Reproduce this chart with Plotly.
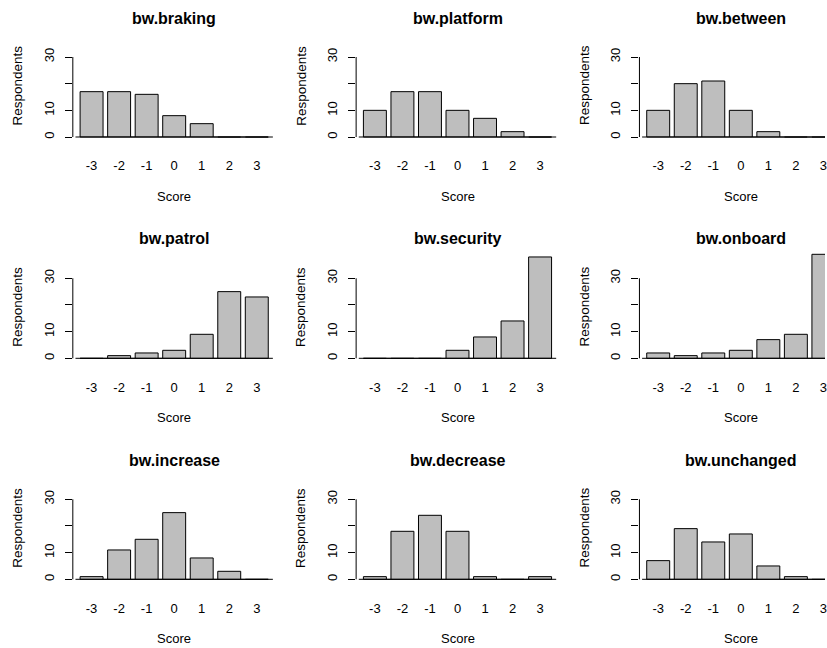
import plotly.graph_objects as go

# ---------------- data ----------------
scores = ["-3", "-2", "-1", "0", "1", "2", "3"]

bw_braking = [17, 17, 16, 8, 5, 0, 0]
bw_platform = [10, 17, 17, 10, 7, 2, 0]
bw_between = [10, 20, 21, 10, 2, 0, 0]
bw_patrol = [0, 1, 2, 3, 9, 25, 23]
bw_security = [0, 0, 0, 3, 8, 14, 38]
bw_onboard = [2, 1, 2, 3, 7, 9, 39]
bw_increase = [1, 11, 15, 25, 8, 3, 0]
bw_decrease = [1, 18, 24, 18, 1, 0, 1]
bw_unchanged = [7, 19, 14, 17, 5, 1, 0]

panel_titles = ["bw.braking", "bw.platform", "bw.between",
                "bw.patrol", "bw.security", "bw.onboard",
                "bw.increase", "bw.decrease", "bw.unchanged"]
panel_values = [bw_braking, bw_platform, bw_between,
                bw_patrol, bw_security, bw_onboard,
                bw_increase, bw_decrease, bw_unchanged]

y_tickvals = [0, 10, 20, 30]
y_ticktext = ["0", "10", "", "30"]
x_label = "Score"
y_label = "Respondents"

# ---------------- layout geometry (pixels) ----------------
W, H = 827, 648
COL_LEFT = [73, 357, 641]
PANEL_W = 204
COL_CENTER = [174.7, 458.7, 742.7]
ROW_ZERO = [137.0, 358.3, 579.3]
PX_PER_UNIT = 80.0 / 30.0
Y_MIN, Y_MAX = -1.2, 40
CAT_PITCH = 27.6
FIRST_OFFSET = 18.8
TITLE_Y = [18.0, 239.0, 460.0]
XLAB_DY = 59.3
YLAB_DX = 55
YLAB_DY = 51.5

FONT = "Liberation Sans, Arial, Helvetica, sans-serif"
BAR_FILL = "#BEBEBE"
INK = "#000000"

fig = go.Figure()
layout = dict(
    width=W, height=H,
    margin=dict(l=0, r=0, t=0, b=0),
    paper_bgcolor="white", plot_bgcolor="rgba(0,0,0,0)",
    showlegend=False,
    bargap=1 / 6,
    font=dict(family=FONT, color=INK, size=13),
)
annotations = []
shapes = []

for k, (title, vals) in enumerate(zip(panel_titles, panel_values)):
    r, c = divmod(k, 3)
    n = "" if k == 0 else str(k + 1)
    xa, ya = "x" + n, "y" + n

    fig.add_trace(go.Bar(
        x=scores, y=vals, xaxis=xa, yaxis=ya,
        marker=dict(color=BAR_FILL, line=dict(color=INK, width=1)),
        hoverinfo="x+y",
    ))
    # bottom edge of every bar (visible for zero-height bars)
    fig.add_trace(go.Scatter(
        x=scores, y=[0] * len(scores), xaxis=xa, yaxis=ya, mode="markers",
        marker=dict(symbol="line-ew", size=CAT_PITCH / 1.2,
                    line=dict(color=INK, width=1)),
        hoverinfo="skip",
    ))

    x0p = COL_LEFT[c]
    x1p = min(x0p + PANEL_W, W)
    start = -FIRST_OFFSET / CAT_PITCH
    bottom_px = ROW_ZERO[r] - Y_MIN * PX_PER_UNIT
    top_px = ROW_ZERO[r] - Y_MAX * PX_PER_UNIT

    layout["xaxis" + n] = dict(
        domain=[x0p / W, x1p / W], anchor=ya,
        type="category", categoryorder="array", categoryarray=scores,
        range=[start, start + (x1p - x0p) / CAT_PITCH],
        showline=False, showgrid=False, zeroline=False, ticks="",
        tickfont=dict(size=13, family=FONT, color=INK),
        ticklabelstandoff=16, fixedrange=True,
    )
    layout["yaxis" + n] = dict(
        domain=[1 - bottom_px / H, 1 - top_px / H], anchor=xa,
        range=[Y_MIN, Y_MAX],
        tickvals=y_tickvals, ticktext=y_ticktext,
        ticks="outside", ticklen=7, tickwidth=1, tickcolor=INK,
        tickangle=-90, tickfont=dict(size=13, family=FONT, color=INK),
        ticklabelstandoff=6,
        showline=False, showgrid=False, zeroline=False, fixedrange=True,
    )
    # y axis line spanning the tick range only (R style)
    shapes.append(dict(
        type="line", xref=xa + " domain", yref=ya,
        x0=0, x1=0, y0=min(y_tickvals), y1=max(y_tickvals),
        line=dict(color=INK, width=1),
    ))

    annotations.append(dict(
        text="<b>" + title + "</b>", xref="paper", yref="paper",
        x=COL_CENTER[c] / W, y=1 - TITLE_Y[r] / H,
        xanchor="center", yanchor="middle", showarrow=False,
        font=dict(size=16, family=FONT, color=INK),
    ))
    annotations.append(dict(
        text=x_label, xref="paper", yref="paper",
        x=COL_CENTER[c] / W, y=1 - (ROW_ZERO[r] + XLAB_DY) / H,
        xanchor="center", yanchor="middle", showarrow=False,
        font=dict(size=13, family=FONT, color=INK),
    ))
    annotations.append(dict(
        text=y_label, xref="paper", yref="paper", textangle=-90,
        x=(COL_LEFT[c] - YLAB_DX) / W, y=1 - (ROW_ZERO[r] - YLAB_DY) / H,
        xanchor="center", yanchor="middle", showarrow=False,
        font=dict(size=13.5, family=FONT, color=INK),
    ))

layout["annotations"] = annotations
layout["shapes"] = shapes
fig.update_layout(**layout)
fig.write_html(
    "out.html",
    config={"displayModeBar": False, "staticPlot": True},
    post_script="document.body.style.margin='0';document.body.style.padding='0';",
)
